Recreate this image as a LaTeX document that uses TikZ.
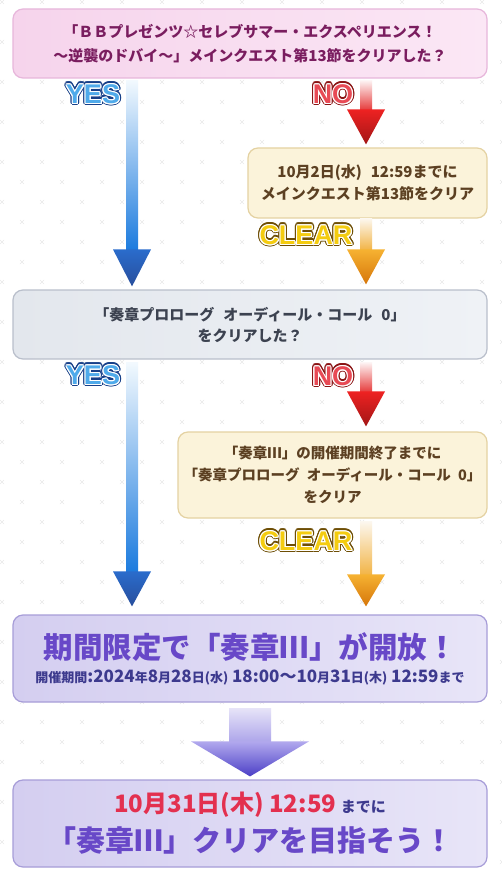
\documentclass[tikz,border=0pt]{standalone}
\usepackage{fontspec}
\usepackage{contour}
\usetikzlibrary{calc}
\newfontfamily\jp{Noto Sans CJK JP}
\newfontfamily\choicefam{Liberation Sans}

% box colours
\definecolor{pinkL}{HTML}{F6D4EC}
\definecolor{pinkR}{HTML}{FBE7F5}
\definecolor{pinkedge}{HTML}{E7B6DB}
\definecolor{pinktext}{HTML}{7A1D5F}
\definecolor{creamfill}{HTML}{FBF3DA}
\definecolor{creamedge}{HTML}{E4D2A2}
\definecolor{browntext}{HTML}{5C4022}
\definecolor{grayL}{HTML}{E3E7ED}
\definecolor{grayR}{HTML}{EFF2F6}
\definecolor{grayedge}{HTML}{B9BFCB}
\definecolor{graytext}{HTML}{3C4250}
\definecolor{lavL}{HTML}{D4CEF0}
\definecolor{lavR}{HTML}{E8E5F8}
\definecolor{lavedge}{HTML}{A79DD8}
\definecolor{titlepurple}{HTML}{6848C8}
\definecolor{subpurple}{HTML}{3D3A8E}
\definecolor{datered}{HTML}{E3304F}
\definecolor{bgcrossc}{HTML}{E8E8E8}
% arrow colours: A/B shaft top/bottom, C/D head top/bottom
\definecolor{yesA}{HTML}{F2F9FE}
\definecolor{yesB}{HTML}{1C7BDE}
\definecolor{yesC}{HTML}{2A6CCC}
\definecolor{yesD}{HTML}{284E9C}
\definecolor{noA}{HTML}{FDF2F2}
\definecolor{noB}{HTML}{E63C3C}
\definecolor{noC}{HTML}{EE2222}
\definecolor{noD}{HTML}{A21616}
\definecolor{clearA}{HTML}{FCF7EE}
\definecolor{clearB}{HTML}{F2B446}
\definecolor{clearC}{HTML}{F6B232}
\definecolor{clearD}{HTML}{D6760A}
\definecolor{bigA}{HTML}{E6E3F8}
\definecolor{bigB}{HTML}{ADA5EA}
\definecolor{bigC}{HTML}{B2A9EE}
\definecolor{bigD}{HTML}{4B3FC6}
% label colours
\definecolor{yesfill}{HTML}{4FAAEA}
\definecolor{yesedge}{HTML}{173F88}
\definecolor{nofill}{HTML}{E84A55}
\definecolor{noedge}{HTML}{8A1414}
\definecolor{clearfill}{HTML}{F4CC10}
\definecolor{clearedge}{HTML}{6E4E05}

% fat arrow: #1 start, #2 tip, #3 colour prefix, #4 half shaft, #5 half head, #6 head length
\newcommand{\flowarrow}[6]{%
  \shade[top color=#3A, bottom color=#3B] let \p1=#1, \p2=#2 in
    (\x1-#4pt,\y1) rectangle (\x1+#4pt,\y2+#6pt-0.5pt);
  \shade[top color=#3C, bottom color=#3D] let \p1=#1, \p2=#2 in
    (\x1-#5pt,\y2+#6pt) -- (\x1+#5pt,\y2+#6pt) -- (\x1,\y2) -- cycle;
}
% outlined YES / NO / CLEAR
\newcommand{\choice}[5]{%
  \node[choicetext] (#1-edge) at (#2) {\contournumber{16}\contourlength{2.4pt}\contour{#5}{\textcolor{#5}{#3}}};
  \node[choicetext] (#1) at (#2) {\contournumber{10}\contourlength{1.1pt}\contour{white}{\textcolor{#4}{#3}}};
}
\newcommand{\unitsm}[1]{{\fontsize{13}{15}\selectfont #1}}

\begin{document}
\begin{tikzpicture}[x=1pt, y=-1pt,
  box/.style={rounded corners=10pt, line width=1.2pt, align=center, inner sep=0pt},
  choicetext/.style={font=\choicefam\bfseries\fontsize{27}{30}\selectfont, inner sep=0pt},
  bgcross/.style={draw=bgcrossc, line width=0.4pt}]
\useasboundingbox (0,0) rectangle (502,877);
\fill[white] (0,0) rectangle (502,877);

% background crosses
\foreach \r in {0,...,43} {
  \pgfmathsetmacro\off{mod(\r,2)*20+2}
  \foreach \c in {0,...,12} {
    \pgfmathsetmacro\px{\off+40*\c}
    \pgfmathsetmacro\py{20*\r+2}
    \draw[bgcross] (\px-2,\py-2) -- (\px+2,\py+2) (\px-2,\py+2) -- (\px+2,\py-2);
  }
}

\coordinate (yescol) at (132,0);
\coordinate (nocol) at (366,0);

% question 1
\node[box, draw=pinkedge, left color=pinkL, right color=pinkR, minimum width=474pt, minimum height=69pt,
  text=pinktext, font=\jp\bfseries\fontsize{15}{24}\selectfont] (q1) at (250,43.5)
  {「ＢＢプレゼンツ☆セレブサマー・エクスペリエンス！\\〜逆襲のドバイ〜」メインクエスト第13節をクリアした？};

% condition 1
\node[box, draw=creamedge, fill=creamfill, minimum width=239pt, minimum height=70pt,
  text=browntext, font=\jp\bfseries\fontsize{15}{22}\selectfont] (c1) at (367.5,183)
  {10月2日(水)\hspace{0.6em}12:59までに\\メインクエスト第13節をクリア};

% question 2
\node[box, draw=grayedge, left color=grayL, right color=grayR, minimum width=474pt, minimum height=69pt,
  text=graytext, font=\jp\bfseries\fontsize{15}{21}\selectfont] (q2) at (250,324.5)
  {「奏章プロローグ\hspace{0.6em}オーディール・コール\hspace{0.6em}0」\\をクリアした？};

% condition 2
\node[box, draw=creamedge, fill=creamfill, minimum width=309pt, minimum height=86pt,
  text=browntext, font=\jp\bfseries\fontsize{14.5}{22}\selectfont] (c2) at (332.5,475)
  {「奏章Ⅲ」の開催期間終了までに\\「奏章プロローグ\hspace{0.5em}オーディール・コール\hspace{0.5em}0」\\をクリア};

% result
\node[box, draw=lavedge, left color=lavL, right color=lavR, minimum width=474pt, minimum height=87pt,
  text=subpurple, font=\jp\bfseries\fontsize{17}{24}\selectfont] (open) at (250,658.5)
  {{\fontsize{29.5}{34}\selectfont\color{titlepurple}期間限定で「奏章Ⅲ」が開放！}\\
   \unitsm{開催期間}:2024\unitsm{年}8\unitsm{月}28\unitsm{日(水)} 18:00〜10\unitsm{月}31\unitsm{日(木)} 12:59\unitsm{まで}};

% goal
\node[box, draw=lavedge, left color=lavL, right color=lavR, minimum width=474pt, minimum height=87pt,
  text=subpurple, font=\jp\bfseries\fontsize{15}{39}\selectfont] (goal) at (250,823.5)
  {{\fontsize{24}{28}\selectfont\color{datered}10月31日(木) 12:59}\hspace{0.3em}までに\\
   {\fontsize{29}{34}\selectfont\color{titlepurple}「奏章Ⅲ」クリアを目指そう！}};

% arrows
\flowarrow{($(q1.south -| yescol)+(0,2)$)}{($(q2.north -| yescol)+(0,-3)$)}{yes}{6}{19}{37}
\flowarrow{($(q1.south -| nocol)+(0,2)$)}{($(c1.north -| nocol)+(0,-3)$)}{no}{6}{19}{35}
\flowarrow{($(c1.south -| nocol)+(0,0)$)}{($(q2.north -| nocol)+(0,-5)$)}{clear}{6}{19}{35}
\flowarrow{($(q2.south -| yescol)+(0,3)$)}{($(open.north -| yescol)+(0,-8)$)}{yes}{6}{19}{35}
\flowarrow{($(q2.south -| nocol)+(0,3)$)}{($(c2.north -| nocol)+(0,-5)$)}{no}{6}{19}{35}
\flowarrow{($(c2.south -| nocol)+(0,3)$)}{($(open.north -| nocol)+(0,-8)$)}{clear}{6}{19}{32}
\flowarrow{($(open.south)+(0,6)$)}{($(goal.north)+(0,-3)$)}{big}{21}{59}{35}

% labels
\choice{yes1}{93,95}{YES}{yesfill}{yesedge}
\choice{no1}{333,95}{NO}{nofill}{noedge}
\choice{clear1}{306,236}{CLEAR}{clearfill}{clearedge}
\choice{yes2}{93,376}{YES}{yesfill}{yesedge}
\choice{no2}{333,377}{NO}{nofill}{noedge}
\choice{clear2}{306,542}{CLEAR}{clearfill}{clearedge}
\end{tikzpicture}
\end{document}
